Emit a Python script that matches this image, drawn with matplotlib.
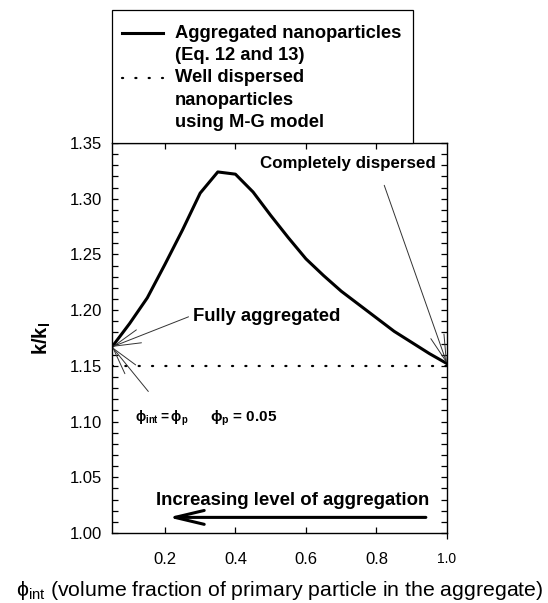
import matplotlib
matplotlib.use("Agg")
import matplotlib.pyplot as plt
import matplotlib.lines as mlines
from matplotlib.patches import Rectangle

plt.rcParams['font.family'] = ['Liberation Sans', 'DejaVu Sans']
plt.rcParams['mathtext.fontset'] = 'custom'
plt.rcParams['mathtext.rm'] = 'Liberation Sans'
plt.rcParams['mathtext.bf'] = 'Liberation Sans:bold'

# volume fraction of primary particles in the aggregate
phi_int = [0.05, 0.10, 0.15, 0.20, 0.25, 0.30, 0.35, 0.40, 0.45, 0.50,
           0.55, 0.60, 0.65, 0.70, 0.75, 0.80, 0.85, 0.90, 0.95, 1.00]
# aggregated nanoparticles (Eq. 12 and 13)
k_agg = [1.167, 1.188, 1.211, 1.241, 1.272, 1.305, 1.324, 1.322, 1.306, 1.285,
         1.265, 1.246, 1.231, 1.217, 1.205, 1.193, 1.181, 1.171, 1.161, 1.152]
# well dispersed, M-G model
phi_mg = [0.05, 1.00]
k_mg = [1.15, 1.15]

x_ticks = [0.2, 0.4, 0.6, 0.8, 1.0]
x_tick_labels = ['0.2', '0.4', '0.6', '0.8', '1.0']
y_ticks = [1.00, 1.05, 1.10, 1.15, 1.20, 1.25, 1.30, 1.35]
legend_labels = [['Aggregated nanoparticles', '(Eq. 12 and 13)'],
                 ['Well dispersed', 'nanoparticles', 'using M-G model']]

W, H = 548, 603
fig = plt.figure(figsize=(W / 100, H / 100), dpi=100)
ax = fig.add_axes([0.2044, 0.1161, 0.6113, 0.6468])


def fx(px):
    return px / W


def fy(py):
    return 1 - py / H


agg_style = dict(color='black', lw=2.2)
mg_style = dict(color='black', lw=1.6, linestyle=(0, (0.5, 5.5)),
                dash_capstyle='round')

ax.plot(phi_int, k_agg, **agg_style)
ax.plot(phi_mg, k_mg, **mg_style)

ax.set_xlim(0.05, 1.0)
ax.set_ylim(1.0, 1.35)
ax.set_xticks(x_ticks)
ax.set_xticklabels(x_tick_labels, fontsize=12)
ax.set_yticks(y_ticks)
ax.set_yticklabels(['%.2f' % v for v in y_ticks], fontsize=12)
ax.yaxis.set_minor_locator(matplotlib.ticker.MultipleLocator(0.01))
ax.tick_params(which='both', direction='in', top=True, right=True, width=0.9)
ax.tick_params(which='major', length=4.5, pad=7)
ax.tick_params(axis='x', which='major', pad=14)
ax.tick_params(which='minor', length=4)
for s in ax.spines.values():
    s.set_linewidth(1.0)

# the 1.0 tick is drawn outward and its label smaller
last = ax.xaxis.get_major_ticks()[-1]
last.tick1line.set_marker(mlines.TICKDOWN)
last.tick2line.set_visible(False)
last.label1.set_fontsize(10)

ax.set_ylabel(r'k/k$_\mathbf{l}$', fontsize=14.5, fontweight='bold', labelpad=12)
ax.set_xlabel(r'$\mathregular{\phi_{int}}$ (volume fraction of primary particle in the aggregate)',
              fontsize=15.3, labelpad=8)

# legend box sitting on top of the axes, drawn by hand so the
# handles line up with the first line of each label
fig.patches.append(Rectangle((fx(112), fy(143)), fx(413) - fx(112), fy(10) - fy(143),
                             transform=fig.transFigure, fill=True, facecolor='white',
                             edgecolor='black', lw=0.9, zorder=5))
row = 0
for lines, style in zip(legend_labels, [agg_style, mg_style]):
    ypx = 33 + row * 22.3
    fig.add_artist(mlines.Line2D([fx(122), fx(163)], [fy(ypx), fy(ypx)],
                                 transform=fig.transFigure, zorder=6, **style))
    for line in lines:
        fig.text(fx(175), fy(37.7 + row * 22.3), line, fontsize=13.2,
                 fontweight='bold', ha='left', va='baseline', zorder=6)
        row += 1

thin = dict(arrowstyle='->, head_length=0.97, head_width=0.25', color='#333333',
            lw=0.7, shrinkA=0, shrinkB=0, mutation_scale=20)

ax.annotate('', xy=(phi_int[0], k_agg[0]), xytext=(0.267, 1.194), arrowprops=thin)
ax.text(0.28, 1.194, 'Fully aggregated', fontsize=13.3, fontweight='bold',
        ha='left', va='center')

ax.annotate('', xy=(phi_int[0], k_agg[0]), xytext=(0.153, 1.127), arrowprops=thin)
ax.text(0.115, 1.103, r'$\mathbf{\phi_{int} = \phi_p}$', fontsize=9.8,
        ha='left', va='center')
ax.text(0.329, 1.103, r'$\mathregular{\phi_p}$ = 0.05', fontsize=11, fontweight='bold',
        ha='left', va='center')

ax.annotate('', xy=(phi_int[-1], k_agg[-1]), xytext=(0.822, 1.312), arrowprops=thin)
ax.text(0.969, 1.332, 'Completely dispersed', fontsize=12.2, fontweight='bold',
        ha='right', va='center')

ax.annotate('', xy=(0.21, 1.014), xytext=(0.94, 1.014),
            arrowprops=dict(arrowstyle='->, head_length=1.05, head_width=0.25',
                            color='black', lw=2.2, shrinkA=0, shrinkB=0,
                            mutation_scale=20))
ax.text(0.561, 1.029, 'Increasing level of aggregation', fontsize=13.4,
        fontweight='bold', ha='center', va='center')

fig.savefig('out.png', dpi=100)
